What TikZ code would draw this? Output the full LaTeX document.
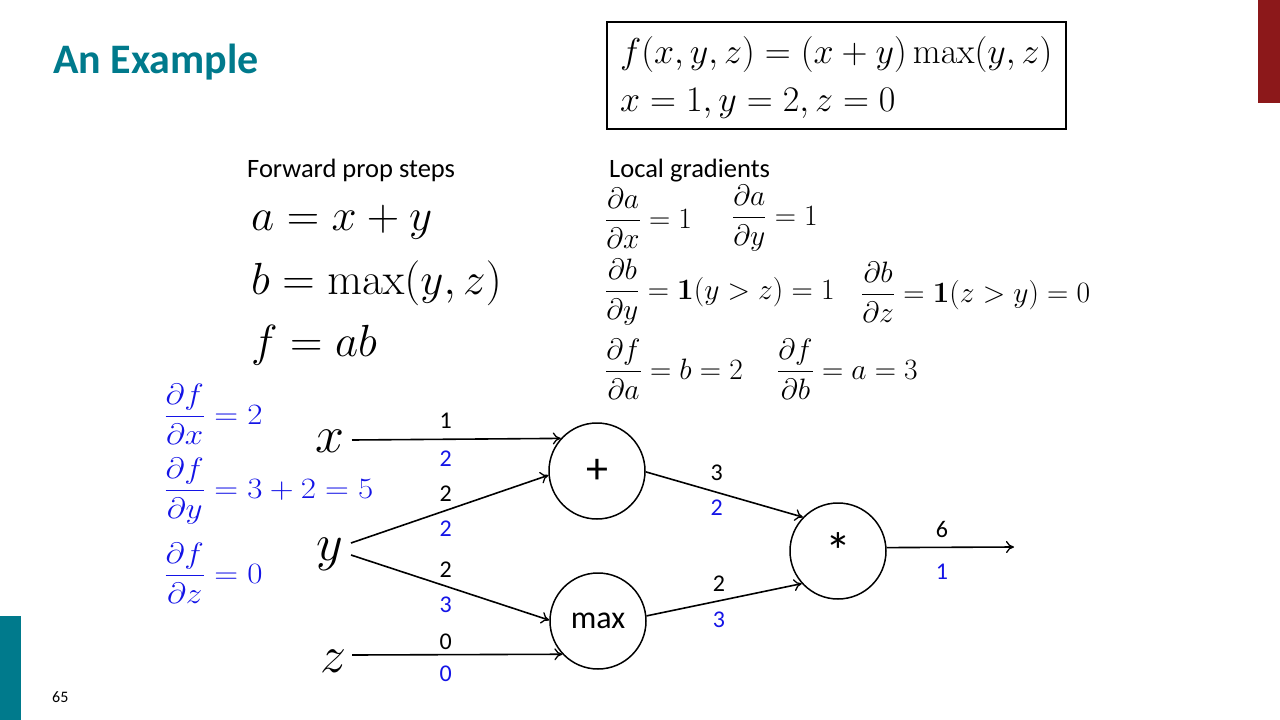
\RequirePackage{fix-cm}
\documentclass[tikz,border=0pt]{standalone}
\usepackage[no-math]{fontspec}
\setmainfont{Carlito}
\usepackage{amsmath}
\usepackage{graphicx}
\usetikzlibrary{arrows.meta}
\definecolor{titleteal}{RGB}{0,122,140}
\definecolor{barred}{RGB}{140,24,26}
\definecolor{gradblue}{RGB}{20,20,230}
\newcommand{\wideeq}[1]{\scalebox{1.12}[1]{$\displaystyle #1$}}
\begin{document}
\begin{tikzpicture}[x=1pt,y=-1pt,
  every node/.style={inner sep=0pt},
  gate/.style={circle,draw,line width=1.5pt,minimum size=96pt,font=\fontsize{32}{38}\selectfont},
  arr/.style={-{To[length=8pt,width=12pt,line width=1.3pt]},line width=1.6pt},
  val/.style={font=\fontsize{24}{28}\selectfont},
  grad/.style={font=\fontsize{24}{28}\selectfont,text=gradblue},
  var/.style={font=\fontsize{52}{60}\selectfont},
  txt/.style={font=\fontsize{26.5}{32}\selectfont,anchor=base west},
  fwd/.style={font=\fontsize{45}{54}\selectfont,anchor=base west},
  loc/.style={font=\fontsize{29.5}{35}\selectfont,anchor=west},
  bl/.style={font=\fontsize{29.5}{35}\selectfont,anchor=west,text=gradblue}]
\useasboundingbox (0,0) rectangle (1280,720);
% decorations
\fill[barred] (1258,0) rectangle (1280,103);
\fill[titleteal] (0,616) rectangle (21,720);
\node[anchor=base west,font=\fontsize{16}{19}\selectfont] (pagenum) at (52,702) {65};
\node[anchor=base west,font=\fontsize{42}{50}\selectfont\bfseries,text=titleteal] (title) at (53,73) {An Example};
% function box
\draw[line width=2.5pt] (607,22) rectangle (1066,129);
\node[anchor=base west,font=\fontsize{36}{42}\selectfont] (fdef) at (620,63) {$f(x,y,z)=(x+y)\max(y,z)$};
\node[anchor=base west,font=\fontsize{36}{42}\selectfont] (fval) at (620,111) {$x=1,y=2,z=0$};
% forward prop
\node[txt] (fwdtitle) at (247,177) {Forward prop steps};
\node[fwd] (fa) at (251,230) {$a=x+y$};
\node[fwd] (fb) at (251,294) {$b=\max(y,z)$};
\node[fwd] (ff) at (251,356) {$f=ab$};
% local gradients
\node[txt] (loctitle) at (609,177) {Local gradients};
\node[loc] (l1) at (605,218) {$\displaystyle\frac{\partial a}{\partial x}=1$};
\node[loc] (l2) at (732,218) {$\displaystyle\frac{\partial a}{\partial y}=1$};
\node[loc] (l3) at (605,292) {$\displaystyle\frac{\partial b}{\partial y}=\mathbf{1}(y>z)=1$};
\node[loc] (l4) at (861,292) {$\displaystyle\frac{\partial b}{\partial z}=\mathbf{1}(z>y)=0$};
\node[loc] (l5) at (605,369) {$\displaystyle\frac{\partial f}{\partial a}=b=2$};
\node[loc] (l6) at (777,369) {$\displaystyle\frac{\partial f}{\partial b}=a=3$};
% blue total gradients
\node[bl] (g1) at (164,414) {\wideeq{\frac{\partial f}{\partial x}=2}};
\node[bl] (g2) at (164,491) {\wideeq{\frac{\partial f}{\partial y}=3+2=5}};
\node[bl] (g3) at (164,573) {\wideeq{\frac{\partial f}{\partial z}=0}};
% graph
\node[var,anchor=base] (vx) at (330,452) {$x$};
\node[var,anchor=base] (vy) at (330,560) {$y$};
\node[var,anchor=base] (vz) at (333,672) {$z$};
\node[gate,font=\fontsize{44}{50}\selectfont] (plus) at (597,471) {+};
\node[gate] (mx) at (598,621) {max};
\node[gate,font=\fontsize{52}{60}\selectfont] (star) at (838,551) {\raisebox{-8pt}{*}};
\coordinate (xs) at (352,440);
\coordinate (ys1) at (351,543);
\coordinate (ys2) at (351,555);
\coordinate (zs) at (352,655);
\coordinate (out) at (1014,547);
\draw[arr] (xs) -- (plus.138);
\draw[arr] (ys1) -- (plus.185);
\draw[arr] (ys2) -- (mx.179);
\draw[arr] (zs) -- (mx.223);
\draw[arr] (plus.-1) -- (star.136);
\draw[arr] (mx.6) -- (star.222);
\draw[arr] (star.4) -- (out);
% edge values
\node[val] (v1) at (445.7,421) {1};
\node[grad] (d1) at (445.7,459) {2};
\node[val] (v2) at (445.7,494) {2};
\node[grad] (d2) at (445.7,529) {2};
\node[val] (v3) at (445.7,570) {2};
\node[grad] (d3) at (445.7,605) {3};
\node[val] (v4) at (445.7,642) {0};
\node[grad] (d4) at (445.7,674) {0};
\node[val] (v5) at (716.7,473) {3};
\node[grad] (d5) at (716.7,508) {2};
\node[val] (v6) at (719,584) {2};
\node[grad] (d6) at (719,620) {3};
\node[val] (v7) at (942,529) {6};
\node[grad] (d7) at (942,572) {1};
\end{tikzpicture}
\end{document}
